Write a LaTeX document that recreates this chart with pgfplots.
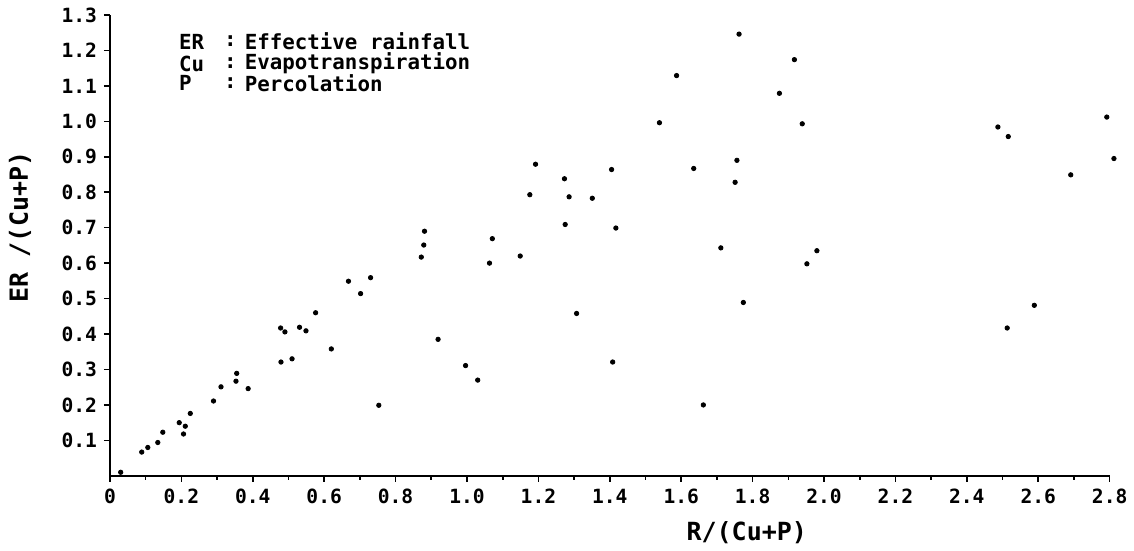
\documentclass[border=0pt]{standalone}
\usepackage{fontspec}
\setmainfont{DejaVu Sans Mono}
\usepackage{pgfplots}
\pgfplotsset{compat=1.18}
\usepackage{pgfplotstable}

\pgfplotstableread{
x y
0.030 0.010
0.089 0.067
0.106 0.080
0.134 0.094
0.148 0.123
0.194 0.150
0.211 0.140
0.206 0.118
0.225 0.176
0.290 0.211
0.311 0.251
0.355 0.289
0.353 0.267
0.387 0.246
0.478 0.417
0.490 0.406
0.479 0.321
0.510 0.330
0.531 0.419
0.549 0.409
0.576 0.460
0.620 0.358
0.668 0.549
0.702 0.514
0.730 0.559
0.753 0.199
0.872 0.617
0.879 0.651
0.881 0.690
0.919 0.385
0.996 0.311
1.030 0.270
1.063 0.600
1.071 0.669
1.149 0.620
1.176 0.793
1.192 0.879
1.273 0.838
1.275 0.709
1.286 0.787
1.307 0.458
1.351 0.783
1.405 0.864
1.408 0.321
1.417 0.699
1.539 0.996
1.587 1.129
1.635 0.867
1.662 0.200
1.711 0.643
1.751 0.828
1.756 0.890
1.762 1.246
1.774 0.489
1.875 1.079
1.917 1.174
1.939 0.993
1.952 0.598
1.980 0.635
2.487 0.984
2.513 0.417
2.516 0.957
2.589 0.481
2.691 0.849
2.792 1.012
2.812 0.895
}\datatable

\begin{document}
\begin{tikzpicture}
\begin{axis}[
  scale only axis,
  width=500pt, height=230.5pt,
  xmin=0, xmax=2.8, ymin=0, ymax=1.3,
  axis x line=bottom, axis y line=left,
  axis line style={-, line width=1.2pt},
  clip=false,
  xtick={0,0.2,...,2.8},
  xticklabels={0,0.2,0.4,0.6,0.8,1.0,1.2,1.4,1.6,1.8,2.0,2.2,2.4,2.6,2.8},
  minor x tick num=1,
  ytick={0.1,0.2,...,1.31},
  yticklabels={0.1,0.2,0.3,0.4,0.5,0.6,0.7,0.8,0.9,1.0,1.1,1.2,1.3},
  tick align=outside,
  major tick length=3pt, minor tick length=2pt,
  tick style={black, line width=0.8pt},
  /pgf/number format/assume math mode=true,
  tick label style={font=\fontsize{9.8}{11}\selectfont\bfseries},
  xlabel={R/(Cu+P)},
  ylabel={ER /(Cu+P)},
  label style={font=\fontsize{12.5}{14}\selectfont\bfseries},
  xlabel style={at={(rel axis cs:0.637,-0.124)}, anchor=center},
  ylabel style={at={(rel axis cs:-0.09,0.54)}, anchor=center},
]
\addplot[only marks, mark=*, mark size=1.1pt, black] table[x=x,y=y] {\datatable};
\begin{scope}[every node/.style={anchor=west, font=\fontsize{10.4}{12}\selectfont\bfseries}]
\node at (axis cs:0.174,1.225) {ER};
\node at (axis cs:0.174,1.163) {Cu};
\node at (axis cs:0.174,1.107) {P};
\node at (axis cs:0.300,1.225) {:};
\node at (axis cs:0.300,1.163) {:};
\node at (axis cs:0.300,1.107) {:};
\node at (axis cs:0.358,1.225) {Effective rainfall};
\node at (axis cs:0.358,1.163) {Evapotranspiration};
\node at (axis cs:0.358,1.107) {Percolation};
\end{scope}
\path (rel axis cs:-0.11,-0.1584) rectangle (rel axis cs:1.024,1.0325);
\end{axis}
\end{tikzpicture}
\end{document}
